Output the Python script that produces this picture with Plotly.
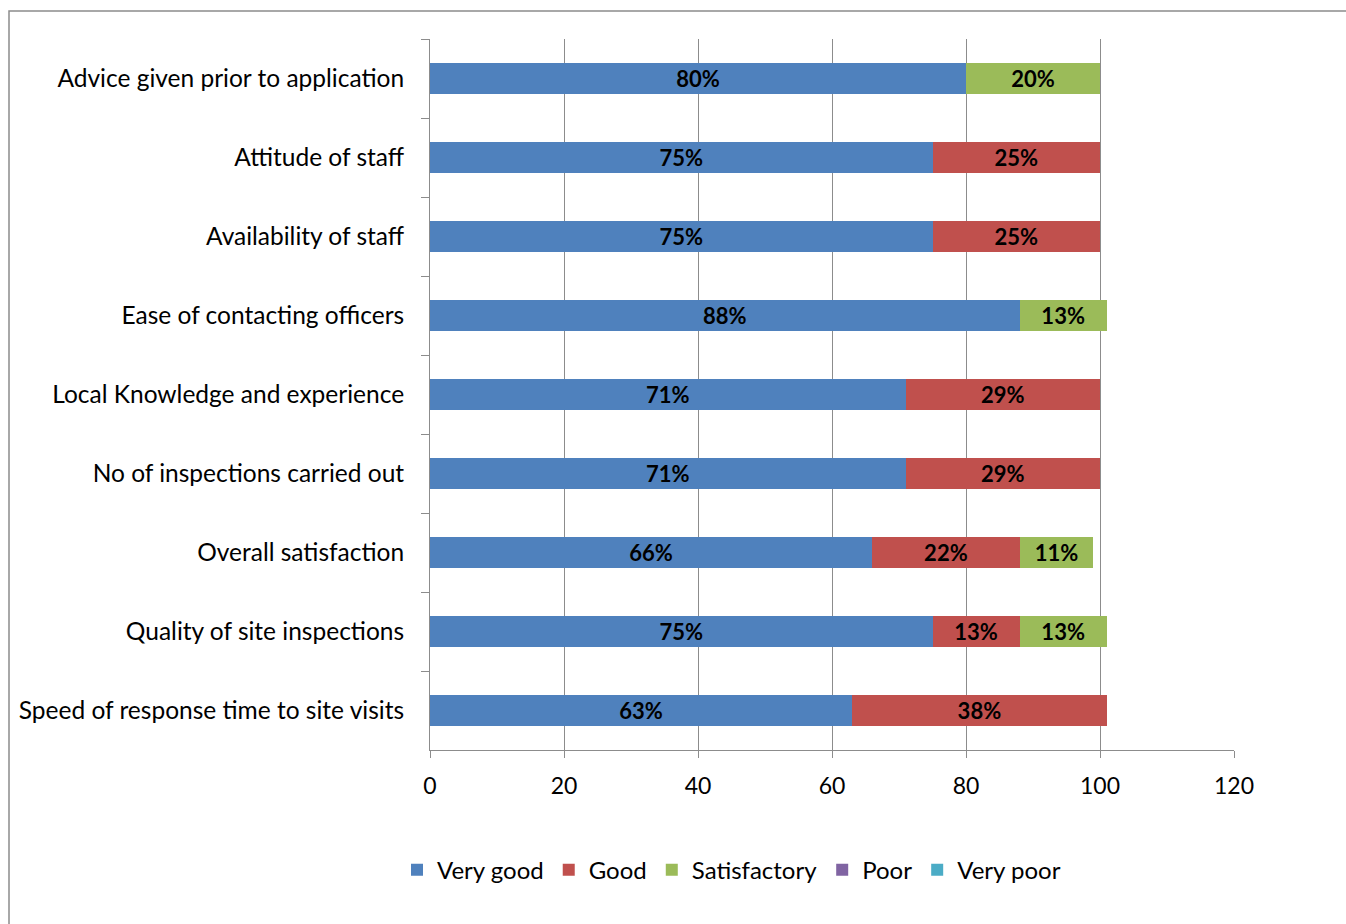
import plotly.graph_objects as go

categories = [
    "Advice given prior to application",
    "Attitude of staff",
    "Availability of staff",
    "Ease of contacting officers",
    "Local Knowledge and experience",
    "No of inspections carried out",
    "Overall satisfaction",
    "Quality of site inspections",
    "Speed of response time to site visits",
]
very_good = [80, 75, 75, 88, 71, 71, 66, 75, 63]
good = [0, 25, 25, 0, 29, 29, 22, 13, 38]
satisfactory = [20, 0, 0, 13, 0, 0, 11, 13, 0]
poor = [0, 0, 0, 0, 0, 0, 0, 0, 0]
very_poor = [0, 0, 0, 0, 0, 0, 0, 0, 0]

series = [
    ("Very good", very_good, "#4F81BD"),
    ("Good", good, "#C0504D"),
    ("Satisfactory", satisfactory, "#9BBB59"),
    ("Poor", poor, "#8064A2"),
    ("Very poor", very_poor, "#4BACC6"),
]

FONT = "Lato, Open Sans, sans-serif"

fig = go.Figure()
for name, vals, col in series:
    fig.add_trace(go.Bar(
        y=categories, x=vals, name=name, orientation="h",
        marker=dict(color=col, line=dict(width=0)),
        text=[f"{v}%" if v > 0 else "" for v in vals],
        textposition="inside", insidetextanchor="middle", textangle=0,
        textfont=dict(family=FONT, size=22, color="black", weight="bold"),
        constraintext="none",
        hoverinfo="x+y+name",
    ))

fig.update_layout(
    barmode="stack",
    bargap=0.6,
    width=1346, height=924,
    margin=dict(l=430, r=112, t=39, b=174),
    paper_bgcolor="white", plot_bgcolor="white",
    font=dict(family=FONT, size=22, color="black"),
    showlegend=True,
    legend=dict(orientation="h", x=0.375, y=-0.169, xanchor="center", yanchor="middle",
                font=dict(family=FONT, size=24, color="black"), itemwidth=30,
                traceorder="normal"),
    uniformtext=dict(mode=False),
)
fig.update_xaxes(
    range=[0, 120], dtick=20, tick0=0,
    showgrid=True, gridcolor="#8c8c8c", gridwidth=1,
    showline=True, linecolor="#8c8c8c", linewidth=1,
    ticks="outside", ticklen=7, tickcolor="#8c8c8c",
    ticklabelstandoff=8,
    tickfont=dict(family=FONT, size=23, color="black"),
    zeroline=False, fixedrange=True,
)
fig.update_yaxes(
    categoryorder="array", categoryarray=categories, autorange="reversed",
    showline=True, linecolor="#8c8c8c", linewidth=1,
    ticks="outside", ticklen=8, tickcolor="#8c8c8c", tickson="boundaries",
    ticklabelstandoff=20,
    tickfont=dict(family=FONT, size=24.5, color="black"),
    showgrid=False, fixedrange=True,
)
# outer chart frame
fig.add_shape(type="rect", xref="paper", yref="paper",
              x0=(9 - 430) / 804, x1=2.0, y0=-0.6, y1=(750 - 11) / 711,
              line=dict(color="#8c8c8c", width=1.5), layer="below")

fig.write_html("out.html")
